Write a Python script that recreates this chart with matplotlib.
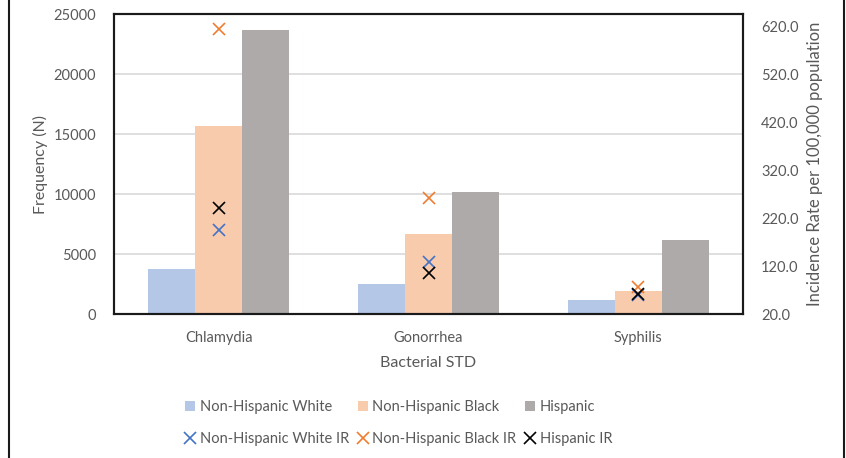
import numpy as np
import matplotlib.pyplot as plt
from matplotlib.lines import Line2D

plt.rcParams['font.family'] = ['Lato', 'DejaVu Sans']

# data
stds = ['Chlamydia', 'Gonorrhea', 'Syphilis']
groups = ['Non-Hispanic White', 'Non-Hispanic Black', 'Hispanic']
freq_white = [3750, 2470, 1170]
freq_black = [15700, 6670, 1920]
freq_hisp = [23640, 10190, 6190]
ir_white = [195, 129, 60]
ir_black = [613, 262, 77]
ir_hisp = [240, 105, 62]

bar_cols = ['#b4c7e7', '#f8cbad', '#aeaaaa']
mark_cols = ['#4472c4', '#ed7d31', '#000000']
txt = '#595959'

fig = plt.figure(figsize=(8.46, 4.58), dpi=100)
ax = fig.add_axes([114/846, 1-314/458, 629/846, 300/458])
ax2 = ax.twinx()

x = np.arange(len(stds))
w = 0.224
bars = []
for i, vals in enumerate([freq_white, freq_black, freq_hisp]):
    b = ax.bar(x + (i-1)*w, vals, w, color=bar_cols[i], zorder=2, label=groups[i])
    bars.append(b)

marks = []
for i, vals in enumerate([ir_white, ir_black, ir_hisp]):
    m, = ax2.plot(x, vals, ls='none', marker='x', ms=9, mew=1.2, color=mark_cols[i],
                  label=groups[i] + ' IR')
    marks.append(m)

ax.set_xlim(-0.5, 2.5)
ax.set_ylim(0, 25000)
ax.set_yticks(range(0, 25001, 5000))
ax.yaxis.grid(True, color='#d9d9d9', lw=1.2, zorder=0)
ax.set_axisbelow(True)
ax2.set_ylim(20, 645)
ax2.set_yticks(np.arange(20, 621, 100))
ax2.set_yticklabels([f'{v:.1f}' for v in np.arange(20, 621, 100)])

ax.set_xticks(x)
ax.set_xticklabels(stds)
for a in (ax, ax2):
    a.tick_params(length=0, labelsize=10.5, labelcolor=txt)
    for s in a.spines.values():
        s.set_color('#1a1a1a')
        s.set_linewidth(1.5)
ax.tick_params(axis='y', pad=13)
ax.tick_params(axis='x', pad=12)
ax2.tick_params(axis='y', pad=13)

ax.set_ylabel('Frequency (N)', fontsize=11.5, color=txt, labelpad=4)
ax.set_xlabel('Bacterial STD', fontsize=11.5, color=txt, labelpad=8)
ax2.set_ylabel('Incidence Rate per 100,000 population', fontsize=12, color=txt, labelpad=6)

# legend, column-major order so rows read bars then markers
handles = []
for b, m in zip(bars, marks):
    handles += [b, m]
leg = fig.legend(handles=handles, labels=[h.get_label() for h in handles],
                 ncol=3, loc='center left', bbox_to_anchor=(172/846, 1-423/458),
                 frameon=False, fontsize=10.5, labelcolor=txt,
                 handlelength=0.7, handleheight=0.7, handletextpad=0.3,
                 columnspacing=0.6, labelspacing=1.2)

# outer chart border lines
fig.add_artist(Line2D([8.5/846, 8.5/846], [0, 1], color='#1a1a1a', lw=1.5))
fig.add_artist(Line2D([844/846, 844/846], [0, 1], color='#1a1a1a', lw=1.5))

fig.savefig('out.png', dpi=100)
